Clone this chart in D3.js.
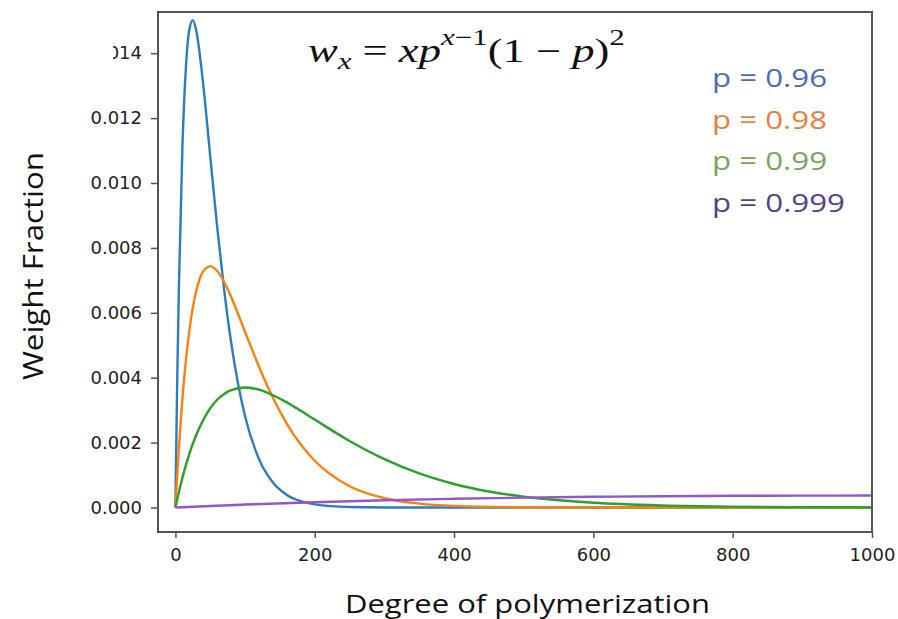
<!DOCTYPE html>
<html>
<head>
<meta charset="utf-8">
<script src="https://cdn.jsdelivr.net/npm/d3@7"></script>
<style>
  html, body { margin: 0; padding: 0; background: #fff; }
  svg { display: block; }
</style>
</head>
<body>
<svg id="chart" width="898" height="619"></svg>
<script>
// Degree of polymerization sample points for each curve
const xP096 = [0, 1, 2, 3, 5, 10, 15, 20, 25, 30, 40, 50, 60, 70, 80, 90, 100, 120, 140, 160, 180, 200, 250, 300, 400, 600, 800, 1000];
const wP096 = [0, 0.00160, 0.00307, 0.00442, 0.00679, 0.01108, 0.01355, 0.01473, 0.01502, 0.01469, 0.01302, 0.01082, 0.00864, 0.00670, 0.00509, 0.00381, 0.00281, 0.00149, 0.000769, 0.000388, 0.000193, 0.000095, 0.000015, 0.000002, 0, 0, 0, 0];

const xP098 = [0, 2, 5, 10, 20, 30, 40, 50, 60, 70, 80, 100, 120, 140, 160, 180, 200, 250, 300, 350, 400, 500, 600, 800, 1000];
const wP098 = [0, 0.000784, 0.00185, 0.00334, 0.00545, 0.00668, 0.00728, 0.00743, 0.00729, 0.00695, 0.00649, 0.00541, 0.00434, 0.00338, 0.00258, 0.00194, 0.00144, 0.000653, 0.000286, 0.000121, 0.000051, 0.000008, 0.000001, 0, 0];

const xP099 = [0, 5, 10, 20, 30, 40, 50, 60, 70, 80, 100, 120, 140, 160, 180, 200, 250, 300, 350, 400, 450, 500, 600, 700, 800, 900, 1000];
const wP099 = [0, 0.000480, 0.000914, 0.00165, 0.00224, 0.00270, 0.00306, 0.00332, 0.00350, 0.00362, 0.00370, 0.00363, 0.00346, 0.00324, 0.00298, 0.00271, 0.00205, 0.00149, 0.00105, 0.000725, 0.000494, 0.000332, 0.000146, 0.000062, 0.000026, 0.000011, 0.000004];

const xP0999 = [0, 50, 100, 200, 300, 400, 500, 600, 700, 800, 900, 1000];
const wP0999 = [0, 0.0000476, 0.0000906, 0.000164, 0.000222, 0.000268, 0.000304, 0.000330, 0.000348, 0.000360, 0.000366, 0.000368];

const seriesLabels = ["p = 0.96", "p = 0.98", "p = 0.99", "p = 0.999"];
const xTickValues = [0, 200, 400, 600, 800, 1000];
const yTickValues = [0, 0.002, 0.004, 0.006, 0.008, 0.010, 0.012, 0.014];

const lineColors = ["#2b7cc0", "#ff7f0e", "#2ca02c", "#9457c8"];
const labelColors = ["#4a6cbc", "#ea7f3e", "#76a65e", "#573f8a"];

const series = [
  { xs: xP096, ws: wP096 },
  { xs: xP098, ws: wP098 },
  { xs: xP099, ws: wP099 },
  { xs: xP0999, ws: wP0999 }
].map((s, i) => ({
  label: seriesLabels[i],
  points: s.xs.map((xv, j) => ({ x: xv, w: s.ws[j] }))
}));

const svg = d3.select("#chart");
const plotLeft = 158, plotRight = 872, plotTop = 12, plotBottom = 532;

const x = d3.scaleLinear().domain([-25, 1000]).range([plotLeft, plotRight]);
const y = d3.scaleLinear().domain([-0.000755, 0.01527]).range([plotBottom, plotTop]);

// Stretch a text element so that it spans the given width
function fitWidth(sel, width) {
  sel.attr("textLength", width).attr("lengthAdjust", "spacingAndGlyphs");
  return sel;
}

// Plot area clip
svg.append("defs").append("clipPath").attr("id", "plotClip")
  .append("rect").attr("x", plotLeft).attr("y", plotTop)
  .attr("width", plotRight - plotLeft).attr("height", plotBottom - plotTop);

const line = d3.line()
  .x(d => x(d.x))
  .y(d => y(d.w))
  .curve(d3.curveMonotoneX);

const plot = svg.append("g").attr("clip-path", "url(#plotClip)");
series.forEach((s, i) => {
  plot.append("path")
    .datum(s.points)
    .attr("d", line)
    .attr("fill", "none")
    .attr("stroke", lineColors[i])
    .attr("stroke-width", 2.4)
    .attr("stroke-linejoin", "round");
});

// Axes
const xAxis = d3.axisBottom(x).tickValues(xTickValues).tickSize(6).tickPadding(10)
  .tickFormat(d3.format("d"));
const yAxis = d3.axisLeft(y).tickValues(yTickValues).tickSize(7).tickPadding(9)
  .tickFormat(d3.format(".3f"));

const gx = svg.append("g").attr("transform", `translate(0,${plotBottom})`).call(xAxis);
const gy = svg.append("g").attr("transform", `translate(${plotLeft},0)`).call(yAxis);

[gx, gy].forEach(g => {
  g.select(".domain").remove();
  g.selectAll(".tick line").attr("stroke", "#555").attr("stroke-width", 1.5);
  g.selectAll(".tick text")
    .attr("fill", "#222")
    .style("font-family", "'DejaVu Sans', sans-serif")
    .style("font-size", "18px");
});

// Frame
svg.append("rect")
  .attr("x", plotLeft).attr("y", plotTop)
  .attr("width", plotRight - plotLeft).attr("height", plotBottom - plotTop)
  .attr("fill", "none").attr("stroke", "#555").attr("stroke-width", 2);

// Top-left corner of the y labels is masked
svg.append("rect").attr("x", 0).attr("y", 0).attr("width", 113).attr("height", 80).attr("fill", "#fff");

// Axis titles
fitWidth(svg.append("text")
  .attr("x", 345).attr("y", 613)
  .style("font-family", "'Open Sans', sans-serif")
  .style("font-size", "25px")
  .attr("fill", "#111")
  .text("Degree of polymerization"), 365);

fitWidth(svg.append("text")
  .attr("transform", "translate(43,380) rotate(-90)")
  .attr("x", 0).attr("y", 0)
  .style("font-family", "'Open Sans', sans-serif")
  .style("font-size", "27px")
  .attr("fill", "#111")
  .text("Weight Fraction"), 228);

// Formula, stretched horizontally to its box
const fg = svg.append("g");
const f = fg.append("text")
  .attr("x", 0).attr("y", 0)
  .style("font-family", "'Liberation Serif', 'DejaVu Serif', serif")
  .style("font-size", "33px")
  .attr("fill", "#111");
f.append("tspan").attr("font-style", "italic").text("w");
f.append("tspan").attr("font-style", "italic").attr("dy", 7).style("font-size", "23px").text("x");
f.append("tspan").attr("dy", -7).text(" = ");
f.append("tspan").attr("font-style", "italic").text("xp");
f.append("tspan").attr("dy", -17).style("font-size", "23px").attr("font-style", "italic").text("x");
f.append("tspan").style("font-size", "23px").text("−1");
f.append("tspan").attr("dy", 17).text("(1 − ");
f.append("tspan").attr("font-style", "italic").text("p");
f.append("tspan").text(")");
f.append("tspan").attr("dy", -17).style("font-size", "23px").text("2");
const fb = f.node().getBBox();
const fScale = 317 / fb.width;
fg.attr("transform", `translate(${308 - fb.x * fScale},62) scale(${fScale},1)`);

// Series labels
const labelWidths = [115, 115, 115, 133];
const labelBaselines = [87, 128.7, 170.3, 212];
seriesLabels.forEach((lab, i) => {
  fitWidth(svg.append("text")
    .attr("x", 712).attr("y", labelBaselines[i])
    .style("font-family", "'Open Sans', sans-serif")
    .style("font-size", "26px")
    .attr("fill", labelColors[i])
    .text(lab), labelWidths[i]);
});
</script>
</body>
</html>
